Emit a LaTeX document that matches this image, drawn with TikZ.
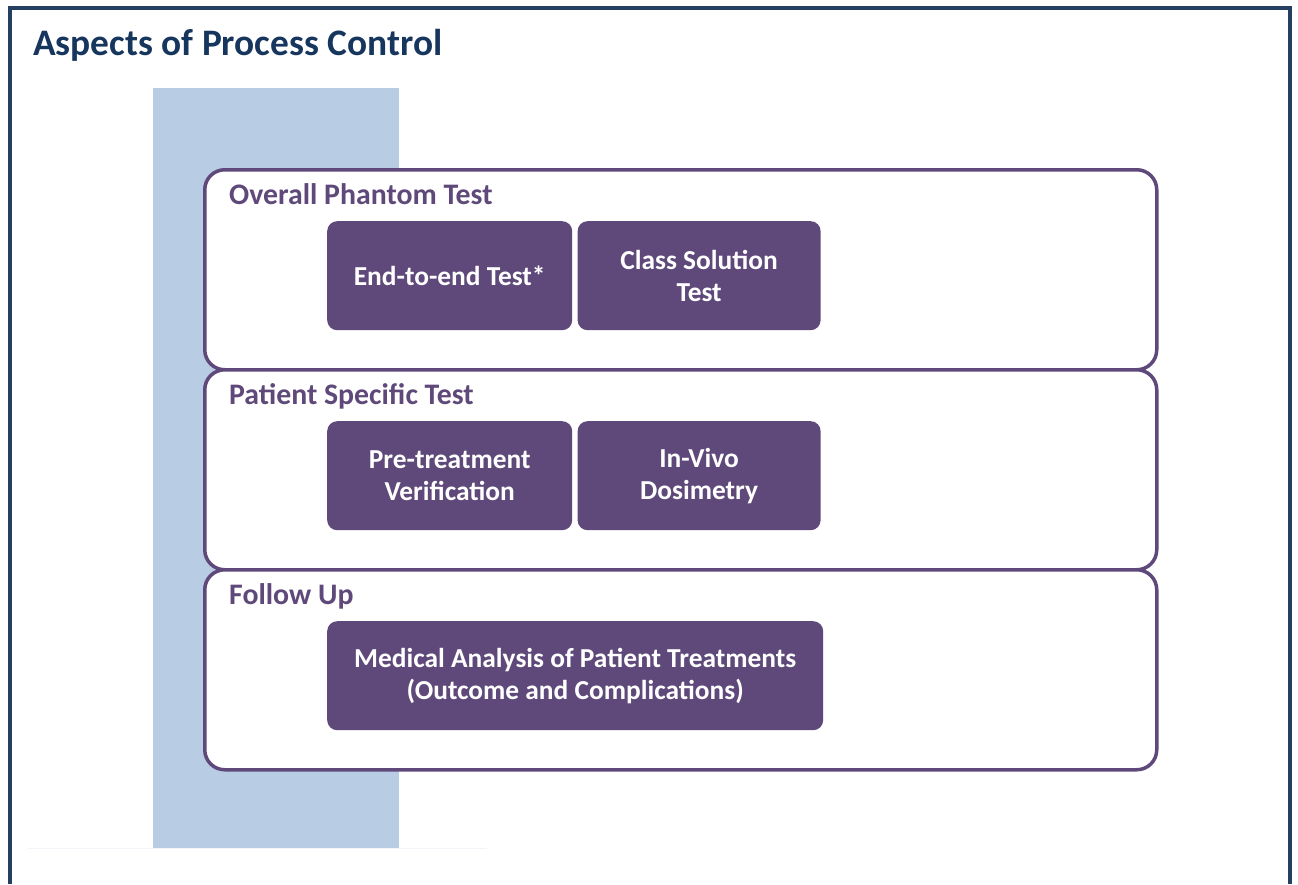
\documentclass[tikz,border=0pt]{standalone}
\usepackage{fontspec}
\setmainfont{Carlito}
\usetikzlibrary{positioning}
\definecolor{frameblue}{HTML}{243F60}
\definecolor{titleblue}{HTML}{17365D}
\definecolor{bandblue}{HTML}{B8CCE4}
\definecolor{aspectpurple}{HTML}{5F497A}

\begin{document}
\begin{tikzpicture}[x=1pt, y=-1pt,
    band/.style={fill=bandblue, inner sep=0pt, minimum width=246pt, minimum height=760pt, anchor=north west},
    panel/.style={draw=aspectpurple, fill=white, line width=3.5pt, rounded corners=20pt, minimum width=952pt, minimum height=200pt, anchor=north west, inner sep=0pt},
    heading/.style={text=aspectpurple, font=\fontsize{29.8}{35}\selectfont\bfseries, anchor=base west, inner sep=0pt},
    task/.style={fill=aspectpurple, text=white, rounded corners=10pt, minimum height=109pt, minimum width=245pt, align=center, inner sep=0pt, font=\fontsize{27.4}{32}\selectfont\bfseries},
    every node/.style={node distance=5pt}
    ]
    \useasboundingbox (0,0) rectangle (1298,884);
    % frame, open at the bottom
    \draw[frameblue, line width=4.5pt] (10,884) -- (10,8) -- (1290,8) -- (1290,884);
    \node[anchor=base west, inner sep=0pt, text=titleblue, font=\fontsize{37.4}{44}\selectfont\bfseries] (title) at (33,55) {Aspects of Process Control};
    
    \node[band] (band) at (153,88) {};
    \coordinate (rule-l) at (28,848);
    \coordinate (rule-r) at (487,848);
    \draw[bandblue!20, line width=1pt] (rule-l) -- (rule-r);
    
    % the three stacked panels
    \foreach \p/\ttl [count=\row from 0] in {phantom/Overall Phantom Test, patient/Patient Specific Test, follow/Follow Up} {
        \node[panel] (\p) at (203,168+200*\row) {};
        \node[heading] (\p-head) at ([xshift=26pt, yshift=-36pt]\p.north west) {\ttl};
    }
    
    % tasks inside the panels
    \node[task, anchor=north west] (endtoend) at ([xshift=124pt, yshift=-53pt]phantom.north west) {End-to-end Test*};
    \node[task, right=of endtoend, minimum width=243pt] (classsol) {Class Solution\\Test};
    
    \node[task, anchor=north west] (pretreat) at ([xshift=124pt, yshift=-53pt]patient.north west) {Pre-treatment\\Verification};
    \node[task, right=of pretreat, minimum width=243pt] (invivo) {In-Vivo\\Dosimetry};
    
    \node[task, anchor=north west, minimum width=496pt] (medical) at ([xshift=124pt, yshift=-53pt]follow.north west) {Medical Analysis of Patient Treatments\\(Outcome and Complications)};
    
\end{tikzpicture}
\end{document}
